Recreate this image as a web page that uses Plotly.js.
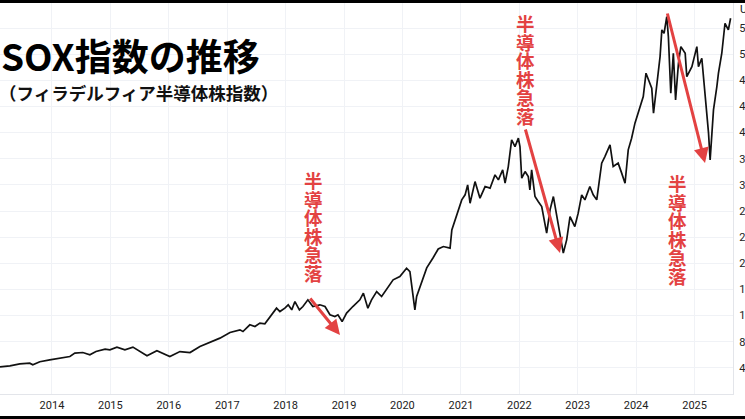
<!DOCTYPE html>
<html>
<head>
<meta charset="utf-8">
<script src="https://cdn.plot.ly/plotly-3.0.1.min.js"></script>
<style>
html,body{margin:0;padding:0;background:#fff;overflow:hidden;width:745px;height:419px;}
#wrap{position:relative;width:745px;height:419px;overflow:hidden;}
#chart{position:absolute;left:0;top:0;width:800px;height:419px;}
.bar{position:absolute;left:0;width:745px;background:#000;z-index:5;}
</style>
</head>
<body>
<div id="wrap">
  <div id="chart"></div>
  <div class="bar" style="top:0;height:3px"></div>
  <div class="bar" style="top:416px;height:3px"></div>
</div>
<script>
// ---- Data (SOX index) ----
const dates = [
"2013-02-10","2013-04-13","2013-06-14","2013-08-15","2013-09-03","2013-10-17","2013-12-18",
"2014-02-20","2014-04-23","2014-05-24","2014-07-13","2014-08-26","2014-10-03","2014-11-29","2014-12-29",
"2015-02-11","2015-04-02","2015-05-22","2015-08-18","2015-10-19",
"2016-01-08","2016-03-11","2016-05-13","2016-07-14","2016-09-15","2016-11-16",
"2017-01-18","2017-03-21","2017-04-09","2017-05-22","2017-06-23","2017-07-24","2017-08-24","2017-11-05","2017-11-26","2017-12-27",
"2018-01-17","2018-02-08","2018-02-28","2018-03-28","2018-04-19","2018-05-20","2018-06-20","2018-08-03","2018-09-04","2018-10-05","2018-11-05","2018-11-24","2018-12-20",
"2019-01-17","2019-02-25","2019-04-10","2019-05-02","2019-05-30","2019-06-22","2019-07-24","2019-08-24","2019-09-24","2019-11-04","2019-12-16",
"2020-01-27","2020-02-17","2020-03-19","2020-03-30","2020-04-30","2020-06-01","2020-07-12","2020-08-12","2020-09-13","2020-10-25","2020-11-05","2020-12-06",
"2021-01-06","2021-01-27","2021-02-12","2021-02-27","2021-03-30","2021-04-30","2021-06-01","2021-07-02","2021-08-02","2021-08-23","2021-09-19","2021-10-04","2021-10-24","2021-11-14","2021-12-05","2021-12-26",
"2022-01-05","2022-01-16","2022-02-06","2022-02-26","2022-03-08","2022-03-19","2022-04-09","2022-04-29","2022-05-21","2022-06-21","2022-07-12","2022-08-02","2022-08-23","2022-09-13","2022-10-03","2022-10-24","2022-11-14","2022-12-14",
"2023-01-04","2023-01-26","2023-02-15","2023-03-18","2023-04-08","2023-04-30","2023-05-31","2023-06-20","2023-07-22","2023-08-11","2023-09-11","2023-10-03","2023-10-24","2023-11-13","2023-12-04","2023-12-25",
"2024-01-25","2024-02-15","2024-03-03","2024-03-17","2024-04-08","2024-04-19","2024-05-09","2024-05-30","2024-06-10","2024-06-24","2024-07-11","2024-07-21","2024-08-05","2024-08-21","2024-09-04","2024-09-22","2024-10-07","2024-11-03","2024-11-13","2024-12-15",
"2025-01-15","2025-01-25","2025-02-15","2025-03-08","2025-03-29","2025-04-08","2025-04-19","2025-04-29","2025-05-20","2025-05-30","2025-06-20","2025-07-10","2025-07-31","2025-08-14"
];
const values = [
416,431,462,472,447,493,523,
549,574,625,635,600,650,687,676,
717,676,717,584,661,
574,650,635,727,788,855,
941,982,956,1059,1033,1085,1074,1314,1262,1314,
1365,1288,1415,1288,1339,1441,1339,1365,1339,1212,1186,1212,1109,
1238,1339,1441,1544,1314,1441,1568,1492,1594,1747,1798,
1926,1874,1288,1492,1697,1930,2090,2220,2257,2232,2512,2742,
2971,3048,3201,2920,3251,2997,3175,3150,3354,3277,3430,3226,3481,3889,3787,3915,
3787,3303,3404,3328,3124,3430,3022,2945,2869,2462,2818,3022,2716,2410,2156,2359,2716,2563,
2768,3048,2971,3175,3048,2971,3533,3634,3813,3481,3533,3380,3226,3736,3915,4145,
4399,4552,4910,4807,4680,4297,4757,5164,5572,5521,5776,5470,4604,5215,4501,5062,5317,5215,4858,5011,
5317,5011,5139,4604,3992,3583,3940,4348,4705,4910,5215,5674,5572,5751
];
const yTicks = [400,800,1200,1600,2000,2400,2800,3200,3600,4000,4400,4800,5200,5600];
const yTickText = ["400","800","1,200","1,600","2,000","2,400","2,800","3,200","3,600","4,000","4,400","4,800","5,200","5,600"];
const titleText = "<b>SOX指数の推移</b>";
const subtitleText = "<b>（フィラデルフィア半導体株指数）</b>";
const dropLabel = ["半","導","体","株","急","落"];

// ---- Layout helpers (pixel -> paper) ----
const PW = 733, PH = 394;
const P = x => x / PW;
const Q = y => (PH - y) / PH;
const RED = "#e34242";
const LABEL_SIZE = 18.5, PITCH = 18.5;

const annotations = [
  {xref:"paper", yref:"paper", x:P(-1), y:Q(55), xanchor:"left", yanchor:"middle", showarrow:false,
   text:titleText, font:{family:"Noto Sans CJK JP", size:37, color:"#000"}},
  {xref:"paper", yref:"paper", x:P(-3), y:Q(92), xanchor:"left", yanchor:"middle", showarrow:false,
   text:subtitleText, font:{family:"Noto Sans CJK JP", size:17.5, color:"#111"}},
  {xref:"paper", yref:"paper", x:1, xshift:5, y:Q(10), xanchor:"left", yanchor:"middle", showarrow:false,
   text:"USD", font:{family:"Roboto", size:11, color:"#131722"}}
];
const labelPos = [[313,170],[525,13],[677,173]];
const labelIdx = [];
labelPos.forEach(([cx,top]) => {
  labelIdx.push(annotations.length);
  annotations.push({xref:"paper", yref:"paper", x:P(cx), y:Q(top - 4),
    xanchor:"center", yanchor:"top", showarrow:false, borderpad:0,
    text: dropLabel.map(c => "<b>" + c + "</b>").join("<br>"),
    font:{family:"Noto Sans CJK JP", size:LABEL_SIZE, color:RED}});
});
const arrows = [[[309,297],[340,335]],[[525,128],[560,253]],[[667,12],[705,163]]];
arrows.forEach(([t,h]) => {
  annotations.push({xref:"paper", yref:"paper", x:P(h[0]), y:Q(h[1]), ax:t[0]-h[0], ay:t[1]-h[1],
    text:"", showarrow:true, arrowhead:2, arrowsize:1, arrowwidth:3, arrowcolor:RED, standoff:0});
});

const trace = {x:dates, y:values, type:"scatter", mode:"lines",
  line:{color:"#111", width:1.7}, hoverinfo:"skip"};

const layout = {
  width:800, height:419,
  margin:{l:0, r:800-PW, t:0, b:419-PH},
  paper_bgcolor:"#fff", plot_bgcolor:"#fff",
  showlegend:false,
  xaxis:{type:"date", range:["2013-02-10","2025-08-29"], dtick:"M12", tick0:"2013-01-01", tickformat:"%Y",
    showgrid:true, gridcolor:"#f0f2f6", gridwidth:1, zeroline:false,
    showline:true, linecolor:"#e3e5ea", linewidth:1,
    ticks:"outside", ticklen:1, tickcolor:"rgba(0,0,0,0)",
    tickfont:{family:"Roboto", size:11, color:"#222"}},
  yaxis:{side:"right", range:[0,6030], tickvals:yTicks, ticktext:yTickText,
    showgrid:true, gridcolor:"#f0f2f6", gridwidth:1, zeroline:false,
    showline:true, linecolor:"#e3e5ea", linewidth:1,
    ticks:"outside", ticklen:3, tickcolor:"rgba(0,0,0,0)",
    tickfont:{family:"Roboto", size:11, color:"#222"}},
  annotations:annotations
};
Plotly.newPlot("chart", [trace], layout, {staticPlot:true, displayModeBar:false}).then(gd => {
  // tighten the line pitch of the vertical red labels (Plotly uses 1.3em)
  const k = PITCH / (1.3 * LABEL_SIZE);
  labelIdx.forEach(i => {
    const g = gd.querySelector('.annotation[data-index="' + i + '"]');
    if (!g) return;
    g.querySelectorAll('tspan.line').forEach(ts => {
      const dy = ts.getAttribute('dy');
      if (dy && dy.endsWith('em')) {
        ts.setAttribute('dy', (parseFloat(dy) * k) + 'em');
      }
    });
  });
});
</script>
</body>
</html>
